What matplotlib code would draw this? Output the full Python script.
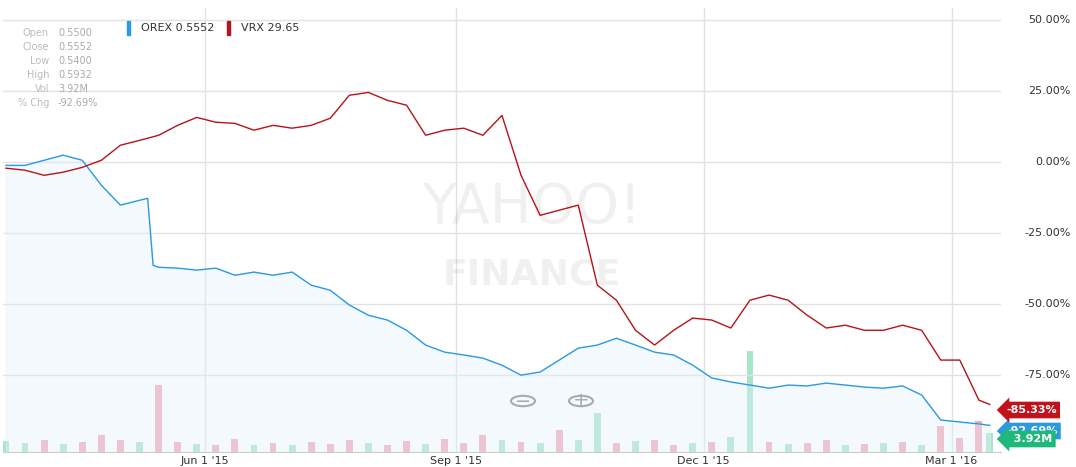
import matplotlib
matplotlib.use("Agg")
import matplotlib.pyplot as plt
import pandas as pd
from matplotlib.patches import Circle

# weekly grid of dates, plus the last trading day
weeks = list(pd.date_range("2015-03-20", periods=52, freq="7D"))
last_day = pd.Timestamp("2016-03-15")

vrx_dates = weeks + [last_day]
vrx_pct = [-2.1, -2.8, -4.6, -3.5, -1.8, 0.7, 6.0, 7.7, 9.5, 13.0, 15.8, 14.1, 13.7,
           11.3, 13.0, 12.0, 13.0, 15.5, 23.6, 24.6, 21.8, 20.1, 9.5, 11.3, 12.0, 9.5,
           16.5, -4.6, -18.7, -16.9, -15.1, -43.3, -48.6, -59.2, -64.4, -59.2, -54.9,
           -55.6, -58.4, -48.6, -46.8, -48.6, -53.9, -58.4, -57.4, -59.2, -59.2, -57.4,
           -59.2, -69.7, -69.7, -83.8, -85.33]

orex_dates = weeks[:8] + [pd.Timestamp("2015-05-11"), pd.Timestamp("2015-05-13")] + weeks[8:] + [last_day]
orex_pct = [-1.1, -1.1, 0.7, 2.5, 0.7, -8.1, -15.1, -13.4, -12.7, -36.3,
            -37.0, -37.3, -38.0, -37.3, -39.8, -38.7, -39.8, -38.7, -43.3, -45.1,
            -50.3, -53.9, -55.6, -59.2, -64.4, -66.9, -67.9, -69.0, -71.5, -75.0,
            -73.9, -69.7, -65.5, -64.4, -62.0, -64.4, -66.9, -67.9, -71.5, -76.0,
            -77.4, -78.5, -79.6, -78.5, -78.8, -77.8, -78.5, -79.2, -79.6, -78.8,
            -82.0, -90.8, -91.5, -92.2, -92.69]

# OREX volume (millions), weekly; "d" = down day (pink), "u" = up day (green)
vol_dates = weeks + [last_day]
vol = [2.2, 1.8, 2.5, 1.6, 2.0, 3.5, 2.4, 2.0, 14.0, 2.0, 1.6, 1.5, 2.8, 1.4,
       1.8, 1.5, 2.0, 1.6, 2.4, 1.8, 1.4, 2.2, 1.6, 2.8, 1.9, 3.5, 2.5, 2.0, 1.8,
       4.5, 2.4, 8.0, 1.8, 2.2, 2.6, 1.5, 1.9, 2.1, 3.2, 21.0, 2.0, 1.6, 1.8, 2.4,
       1.5, 1.6, 1.9, 2.0, 1.4, 5.5, 3.0, 6.5, 3.92]
vol_dir = ["u", "u", "d", "u", "d", "d", "d", "u", "d", "d", "u", "d", "d", "u",
           "d", "u", "d", "d", "d", "u", "d", "d", "u", "d", "d", "d", "u", "d", "u",
           "d", "u", "u", "d", "u", "d", "d", "u", "d", "u", "u", "d", "u", "d", "d",
           "u", "d", "u", "d", "u", "d", "d", "d", "u"]
vol_colors = {"d": "#f4a9b8", "u": "#a8e6c8"}

fig = plt.figure(figsize=(10.76, 4.67), dpi=100)
ax = fig.add_axes([0.003, 0.032, 0.927, 0.95])

start, end = pd.Timestamp("2015-03-19"), pd.Timestamp("2016-03-19")
ax.set_xlim(start, end)
ax.set_ylim(-102.1, 54.2)

# volume on a secondary axis, bars near the bottom
vax = ax.twinx()
vax.set_ylim(0, 92)
vax.bar(vol_dates, vol, width=2.5, color=[vol_colors[c] for c in vol_dir], zorder=1)
vax.axis("off")

ax.set_zorder(vax.get_zorder() + 1)
ax.patch.set_visible(False)

ax.fill_between(orex_dates, orex_pct, -102.1, color="#e3f0fb", alpha=0.4, zorder=1)
ax.plot(orex_dates, orex_pct, color="#2a9be0", lw=1.0, zorder=3)
ax.plot(vrx_dates, vrx_pct, color="#b8121b", lw=1.0, zorder=4)

# grid
for y in [50, 25, 0, -25, -50, -75]:
    ax.axhline(y, color="#e2e2e2", lw=1, zorder=0)
month_ticks = [pd.Timestamp(s) for s in ["2015-06-01", "2015-09-01", "2015-12-01", "2016-03-01"]]
for d in month_ticks:
    ax.axvline(d, color="#e2e2e2", lw=1, zorder=0)
ax.set_xticks([])
ax.set_yticks([])
for s in ax.spines.values():
    s.set_visible(False)
ax.spines["bottom"].set_visible(True)
ax.spines["bottom"].set_color("#cccccc")

# date labels
for d, lab in zip(month_ticks, ["Jun 1 '15", "Sep 1 '15", "Dec 1 '15", "Mar 1 '16"]):
    ax.text(d, -103.5, lab, ha="center", va="top", fontsize=8, color="#333333")

# right percentage labels
for y in [50, 25, 0, -25, -50, -75]:
    fig.text(0.995, ax.transData.transform((0, y))[1] / fig.bbox.height,
             "%.2f%%" % y, ha="right", va="center", fontsize=8, color="#333333")

# end value tags
def tag(yfig, text, color):
    fig.text(0.935, yfig, text, ha="left", va="center", fontsize=8, color="white",
             fontweight="bold",
             bbox=dict(boxstyle="larrow,pad=0.3", fc=color, ec="none"))
tag(1 - 431 / 467, "-92.69%", "#2a9be0")
tag(1 - 439 / 467, "  3.92M", "#1db87a")
tag(1 - 410 / 467, "-85.33%", "#c0121b")

# watermark
ax.text(0.53, 0.55, "YAHOO!", transform=ax.transAxes, ha="center", va="center",
        fontsize=40, color="#000000", alpha=0.06)
ax.text(0.53, 0.40, "FINANCE", transform=ax.transAxes, ha="center", va="center",
        fontsize=26, color="#000000", alpha=0.06, fontweight="bold")

# zoom buttons
for xc, sym in [(523, "−"), (581, "+")]:
    fig.patches.append(Circle((xc / 1076, 1 - 401 / 467), 12 / 1076, transform=fig.transFigure,
                              fc="none", ec="#aaaaaa", lw=1.5))
    fig.text(xc / 1076, 1 - 401 / 467, sym, ha="center", va="center", fontsize=14, color="#aaaaaa")

# legend boxes
for x0, name, color in [(127, "OREX 0.5552", "#2a9be0"), (227, "VRX 29.65", "#b8121b")]:
    fig.patches.append(plt.Rectangle((x0 / 1076, 1 - 35 / 467), 3 / 1076, 14 / 467,
                                     transform=fig.transFigure, color=color))
    fig.text((x0 + 14) / 1076, 1 - 28 / 467, name, ha="left", va="center", fontsize=8, color="#333333")

# info panel
info = [("Open", "0.5500"), ("Close", "0.5552"), ("Low", "0.5400"),
        ("High", "0.5932"), ("Vol", "3.92M"), ("% Chg", "-92.69%")]
for i, (k, v) in enumerate(info):
    yy = 1 - (33 + i * 14) / 467
    fig.text(49 / 1076, yy, k, ha="right", va="center", fontsize=7, color="#bbbbbb")
    fig.text(58 / 1076, yy, v, ha="left", va="center", fontsize=7, color="#aaaaaa")

fig.savefig("out.png", dpi=100)
